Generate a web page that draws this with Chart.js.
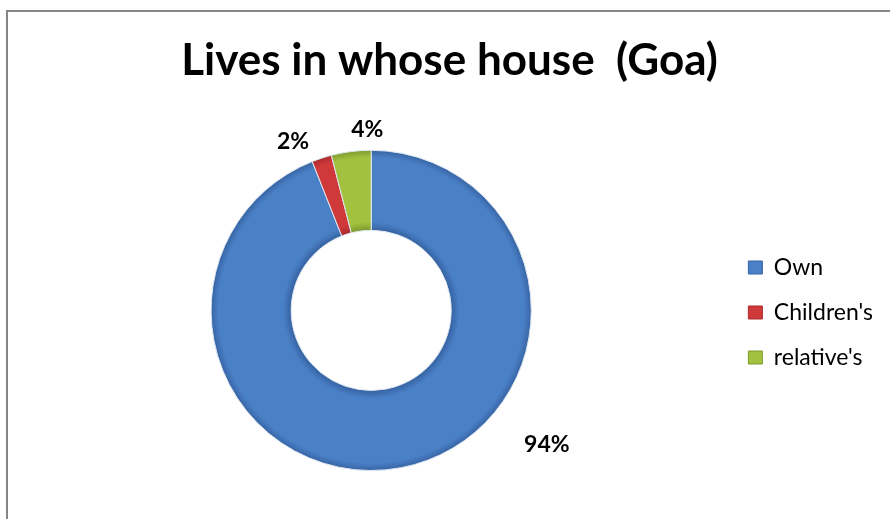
<!DOCTYPE html>
<html>
<head>
<meta charset="utf-8">
<title>Lives in whose house (Goa)</title>
<script src="https://cdn.jsdelivr.net/npm/chart.js@4"></script>
<style>
  html, body { margin: 0; padding: 0; background: #fff; overflow: hidden; }
  #wrap { position: relative; width: 890px; height: 519px; }
  #frame {
    position: absolute; left: 6px; top: 10px; width: 1000px; height: 600px;
    border-left: 2px solid #868686; border-top: 2px solid #868686;
  }
  #house-chart { position: absolute; left: 0; top: 0; }
</style>
</head>
<body>
<div id="wrap">
  <div id="frame"></div>
  <canvas id="house-chart" width="890" height="519"></canvas>
</div>
<script>
'use strict';

// *************** DATA
let categories = ['Own', 'Children\'s', 'relative\'s'];
let shares = [94, 2, 4];
let shareLabels = ['94%', '2%', '4%'];

// *************** STYLE
let baseColors = ['#4a80c6', '#d0393a', '#a2c23f'];
let edgeColors = ['#3663a3', '#a82a2b', '#7f9a2e'];

// where each % label sits: extra angle (deg) and distance past the outer edge
let labelShift = [-42.5, -6.4, 6];
let labelGap = [59, 29, 23.5];

let ctx = document.getElementById('house-chart');

// bevel look: darker at inner and outer rim
function ringFill(context) {
  let chart = context.chart;
  let area = chart.chartArea;
  let i = context.dataIndex;
  if (!area) {
    return baseColors[i];
  }
  let cx = (area.left + area.right) / 2;
  let cy = (area.top + area.bottom) / 2;
  let outer = Math.min(area.right - area.left, area.bottom - area.top) / 2;
  let inner = outer * 0.5;
  let g = chart.ctx.createRadialGradient(cx, cy, inner, cx, cy, outer);
  g.addColorStop(0, edgeColors[i]);
  g.addColorStop(0.1, baseColors[i]);
  g.addColorStop(0.9, baseColors[i]);
  g.addColorStop(1, edgeColors[i]);
  return g;
}

// *************** PERCENT LABELS
let pctLabelPlugin = {
  id: 'pctLabels',
  afterDatasetsDraw(chart) {
    let c = chart.ctx;
    let arcs = chart.getDatasetMeta(0).data;
    c.save();
    c.font = 'bold 23px Lato';
    c.fillStyle = '#000';
    c.textAlign = 'center';
    c.textBaseline = 'middle';
    for (let i = 0; i < arcs.length; i++) {
      let p = arcs[i].getProps(['x', 'y', 'startAngle', 'endAngle', 'outerRadius'], true);
      let mid = (p.startAngle + p.endAngle) / 2 + labelShift[i] * Math.PI / 180;
      let r = p.outerRadius + labelGap[i];
      c.fillText(shareLabels[i], p.x + Math.cos(mid) * r, p.y + Math.sin(mid) * r + 3);
    }
    c.restore();
  }
};

let chartObj = {
  type: 'doughnut',
  data: {
    labels: categories,
    datasets: [{
      data: shares,
      backgroundColor: ringFill,
      borderColor: '#dde6f0',
      borderWidth: 1
    }]
  },
  options: {
    responsive: false,
    animation: false,
    cutout: '50%',
    layout: {
      padding: { left: 16, right: 7, top: 0, bottom: 48 }
    },
    plugins: {
      title: {
        display: true,
        text: 'Lives in whose house  (Goa)',
        color: '#000',
        font: { family: 'Lato', size: 44, weight: 'bold' },
        padding: { top: 34, bottom: 63 }
      },
      legend: {
        position: 'right',
        title: {
          display: true,
          text: ' ',
          font: { size: 10 },
          padding: { top: 142, bottom: 0 }
        },
        labels: {
          color: '#000',
          font: { family: 'Lato', size: 23 },
          boxWidth: 14,
          boxHeight: 13,
          padding: 22,
          generateLabels(chart) {
            return categories.map(function (name, i) {
              return {
                text: name,
                fillStyle: baseColors[i],
                strokeStyle: edgeColors[i],
                fontColor: '#000',
                lineWidth: 1,
                index: i,
                hidden: false
              };
            });
          }
        }
      },
      tooltip: { enabled: false }
    }
  },
  plugins: [pctLabelPlugin]
};

new Chart(ctx, chartObj); // eslint-disable-line
</script>
</body>
</html>
